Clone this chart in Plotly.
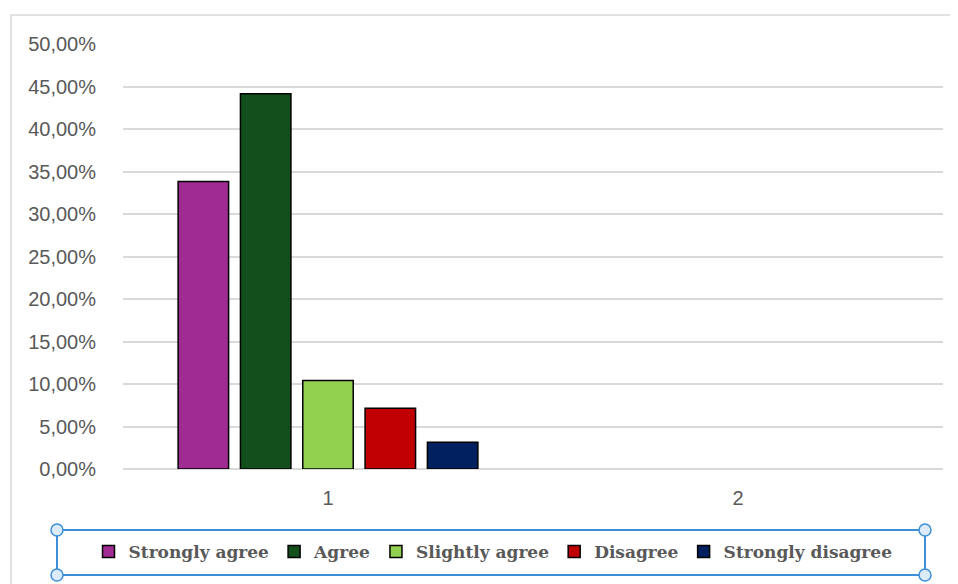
import plotly.graph_objects as go

categories = ["1", "2"]
series_names = ["Strongly agree", "Agree", "Slightly agree", "Disagree", "Strongly disagree"]
series_values = [
    [0.3382, None],
    [0.4415, None],
    [0.1040, None],
    [0.0716, None],
    [0.0314, None],
]
series_colors = ["#A02B93", "#134F1C", "#92D050", "#C00000", "#002060"]
y_ticks = [0, 0.05, 0.10, 0.15, 0.20, 0.25, 0.30, 0.35, 0.40, 0.45, 0.50]

fig = go.Figure()
for name, vals, col in zip(series_names, series_values, series_colors):
    fig.add_trace(go.Bar(
        x=categories, y=vals, name=name,
        marker=dict(color=col, line=dict(color="#000000", width=1.5)),
    ))

OFF = 8  # page body margin
W, H = 950, 576
# plot area in window pixels: x 123..943, y 44..469
L = 123 - OFF
T = 44 - OFF
R = W - (943 - OFF)
B = H - (469 - OFF)
pw, ph = W - L - R, H - T - B


def px(xw):
    return (xw - OFF - L) / pw


def py(yw):
    return (H - B - (yw - OFF)) / ph


shapes = [
    # outer chart border
    dict(type="rect", xref="paper", yref="paper",
         x0=px(11), x1=px(975), y0=py(15), y1=py(600),
         line=dict(color="#D9D9D9", width=1.5), fillcolor="rgba(0,0,0,0)", layer="below"),
    # legend selection box
    dict(type="rect", xref="paper", yref="paper",
         x0=px(57), x1=px(925), y0=py(530), y1=py(575),
         line=dict(color="#3D8FD8", width=2), fillcolor="rgba(0,0,0,0)"),
]
for cx, cy in [(57, 530), (925, 530), (57, 575), (925, 575)]:
    shapes.append(dict(type="circle", xref="paper", yref="paper",
                       x0=px(cx - 6), x1=px(cx + 6), y0=py(cy - 6), y1=py(cy + 6),
                       line=dict(color="#3D8FD8", width=1.5), fillcolor="#DCEBFA"))

tick_font = dict(family="Liberation Sans, Arial", size=20, color="#595959")

fig.update_layout(
    width=W, height=H,
    margin=dict(l=L, r=R, t=T, b=B),
    paper_bgcolor="white", plot_bgcolor="white",
    separators=", ",
    barmode="group", bargap=0.24, bargroupgap=0.19,
    showlegend=True,
    legend=dict(orientation="h", x=px(493), xanchor="center", y=py(534), yanchor="top",
                font=dict(family="DejaVu Serif", size=17, color="#595959", weight="bold"),
                itemwidth=30, traceorder="normal", bgcolor="rgba(0,0,0,0)"),
    xaxis=dict(type="category", categoryarray=categories, showgrid=False, showline=False,
               zeroline=False, ticks="", tickfont=tick_font, ticklabelstandoff=15),
    yaxis=dict(range=[0, 0.5], tickvals=y_ticks, tickformat=".2%",
               showgrid=True, gridcolor="#D9D9D9", gridwidth=1.5,
               zeroline=True, zerolinecolor="#D9D9D9", zerolinewidth=1.5,
               showline=False, ticks="", tickfont=tick_font,
               ticklabelstandoff=26),
    shapes=shapes,
)

fig.write_html("out.html")
